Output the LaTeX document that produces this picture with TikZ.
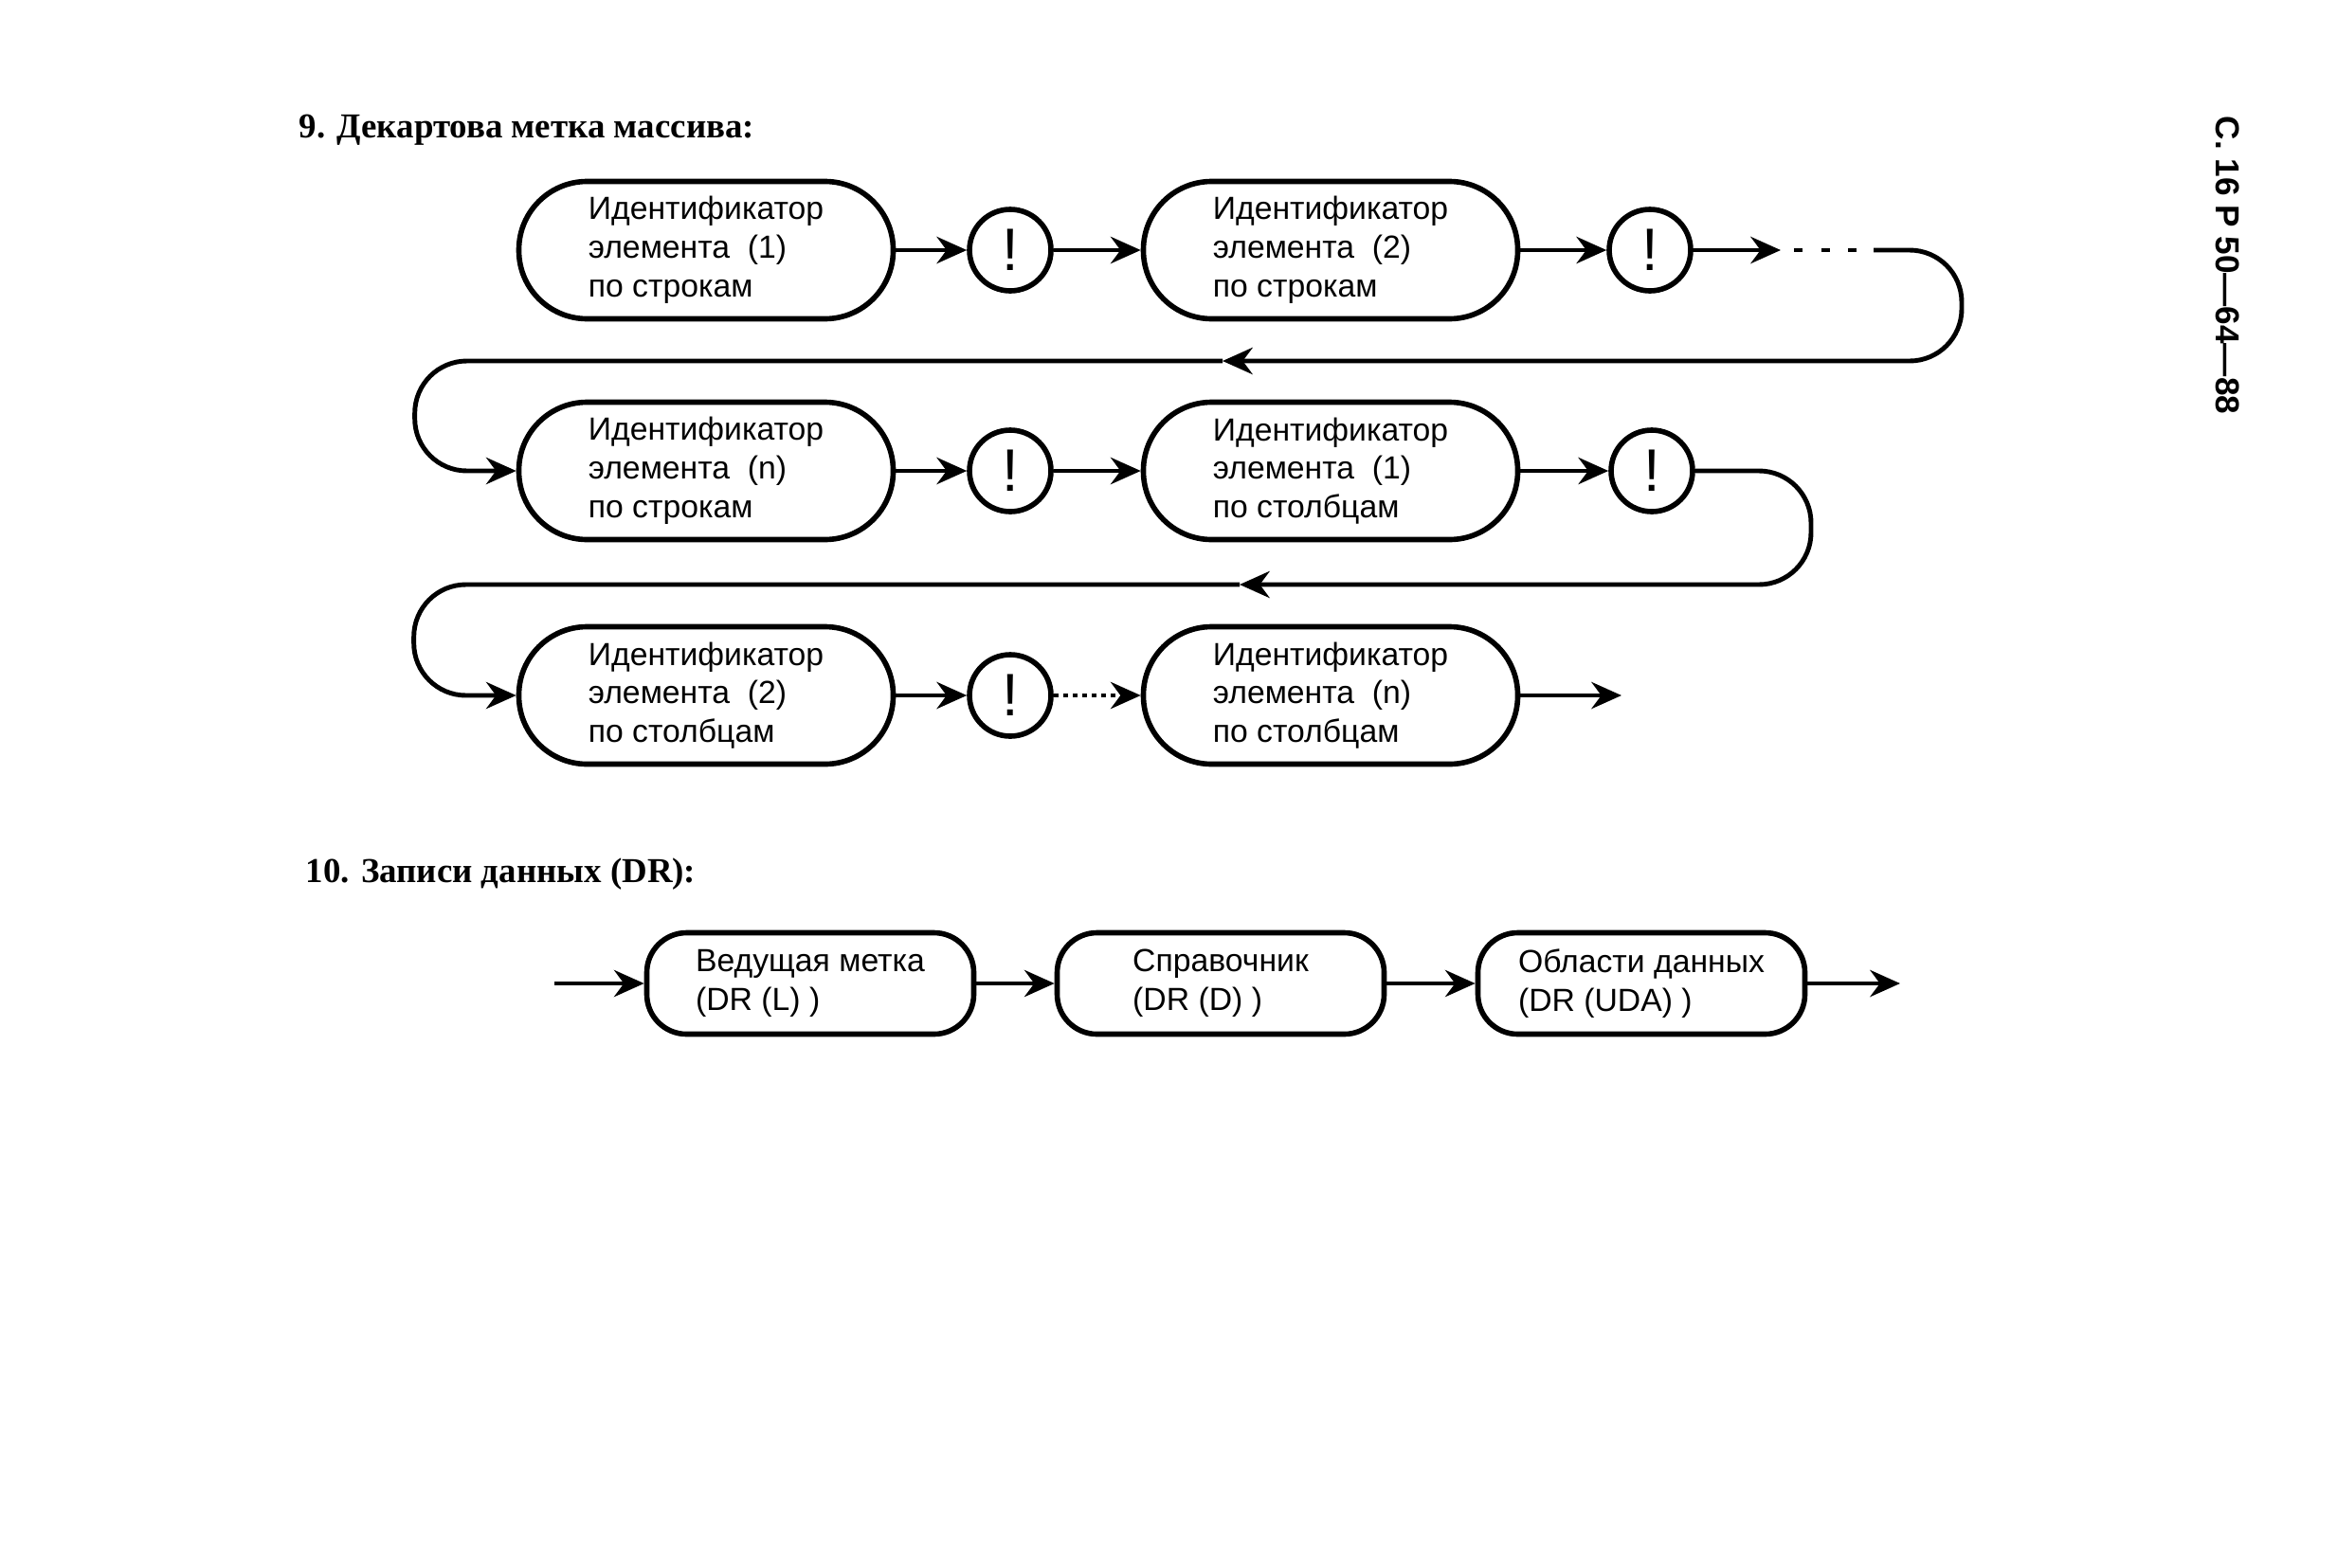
\documentclass[tikz,border=0pt]{standalone}
\usepackage{fontspec}
\setmainfont{Liberation Sans}
\newfontfamily\headfont{Liberation Serif}
\usetikzlibrary{arrows.meta,positioning}

\begin{document}
\begin{tikzpicture}[
    box/.style={draw, line width=1.6pt, rounded corners=0.72cm, minimum width=3.95cm, minimum height=1.45cm, align=left, font=\fontsize{9.6}{11.6}\selectfont},
    drbox/.style={draw, line width=1.6pt, rounded corners=0.42cm, minimum width=3.45cm, minimum height=1.07cm, align=left, font=\fontsize{9.6}{11.6}\selectfont},
    bang/.style={draw, circle, line width=1.6pt, minimum size=0.86cm, inner sep=0pt, font=\fontsize{18}{18}\selectfont},
    arr/.style={-{Stealth[length=9pt,width=8pt]}, line width=1.4pt},
    ln/.style={line width=1.4pt},
    head/.style={anchor=west, inner sep=0pt, font=\headfont\bfseries\fontsize{10.5}{13}\selectfont}
]
\useasboundingbox (0,0) rectangle (24.66,-16.54);

% page number
\node[rotate=-90, font=\bfseries\fontsize{10}{12}\selectfont] (pageno) at (23.51,-2.80) {С. 16 Р 50—64—88};

% 9
\node[head] (title9) at (3.15,-1.37) {9. Декартова метка массива:};

\node[box] (id1r) at (7.45,-2.64) {Идентификатор\\элемента~~(1)\\по строкам};
\node[bang] (b1) at (10.66,-2.64) {!};
\node[box] (id2r) at (14.04,-2.64) {Идентификатор\\элемента~~(2)\\по строкам};
\node[bang] (b2) at (17.41,-2.64) {!};

\node[box] (idnr) at (7.45,-4.97) {Идентификатор\\элемента~~(n)\\по строкам};
\node[bang] (b3) at (10.66,-4.97) {!};
\node[box] (id1c) at (14.04,-4.97) {Идентификатор\\элемента~~(1)\\по столбцам};
\node[bang] (b4) at (17.43,-4.97) {!};

\node[box] (id2c) at (7.45,-7.34) {Идентификатор\\элемента~~(2)\\по столбцам};
\node[bang] (b5) at (10.66,-7.34) {!};
\node[box] (idnc) at (14.04,-7.34) {Идентификатор\\элемента~~(n)\\по столбцам};

\coordinate (r1tip) at (18.79,-2.64);
\coordinate (r1s) at (19.77,-2.64);
\coordinate (r1e) at (20.70,-3.81);
\coordinate (ret1) at (12.90,-3.81);
\coordinate (r2e) at (19.11,-6.17);
\coordinate (ret2) at (13.08,-6.17);
\coordinate (endc) at (17.11,-7.34);

\draw[arr] (id1r) -- (b1);
\draw[arr] (b1) -- (id2r);
\draw[arr] (id2r) -- (b2);
\draw[arr] (b2) -- (r1tip);
\draw[ln, dash pattern=on 0.09cm off 0.195cm] ([xshift=0.14cm]r1tip) -- ([xshift=-0.17cm]r1s);
\draw[arr, rounded corners=0.55cm] (r1s) -| (r1e) -- (ret1);
\draw[arr, rounded corners=0.55cm] (ret1) -| ([xshift=-1.07cm]idnr.west) -- (idnr.west);

\draw[arr] (idnr) -- (b3);
\draw[arr] (b3) -- (id1c);
\draw[arr] (id1c) -- (b4);
\draw[arr, rounded corners=0.55cm] (b4) -| (r2e) -- (ret2);
\draw[arr, rounded corners=0.55cm] (ret2) -| ([xshift=-1.08cm]id2c.west) -- (id2c.west);

\draw[arr] (id2c) -- (b5);
\draw[arr, dash pattern=on 0.05cm off 0.05cm] (b5) -- (idnc);
\draw[arr] (idnc) -- (endc);

% 10
\node[head] (title10) at (3.22,-9.23) {10. Записи данных (DR):};

\node[drbox] (lead) at (8.55,-10.38) {Ведущая метка\\(DR (L) )};
\node[drbox] (dir) at (12.88,-10.38) {Справочник\\(DR (D) )};
\node[drbox] (uda) at (17.32,-10.38) {Области данных\\(DR (UDA) )};

\coordinate (drin) at (5.85,-10.38);
\coordinate (drout) at (20.05,-10.38);

\draw[arr] (drin) -- (lead);
\draw[arr] (lead) -- (dir);
\draw[arr] (dir) -- (uda);
\draw[arr] (uda) -- (drout);
\end{tikzpicture}
\end{document}
